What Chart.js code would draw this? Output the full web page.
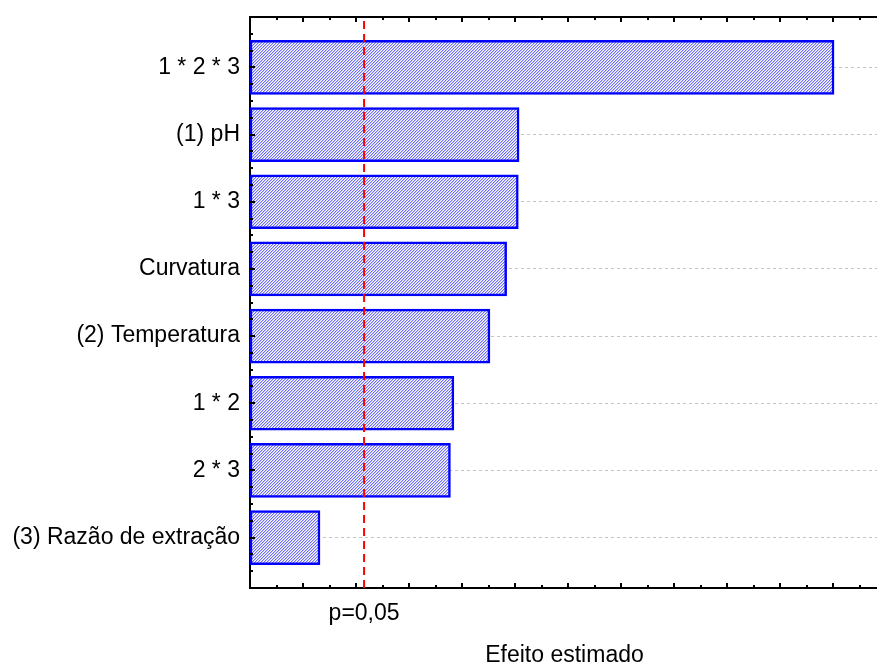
<!DOCTYPE html>
<html>
<head>
<meta charset="utf-8">
<title>Pareto - Efeito estimado</title>
<script src="https://cdn.jsdelivr.net/npm/chart.js@4.4.1/dist/chart.umd.min.js"></script>
<style>
  html, body { margin: 0; padding: 0; background: #fff; overflow: hidden; }
  #wrap { width: 877px; height: 664px; }
</style>
</head>
<body>
<div id="wrap"><canvas id="paretoChart" width="877" height="664"></canvas></div>
<script>
// valores (efeito padronizado)
const categories = [
  "1 * 2 * 3",
  "(1) pH",
  "1 * 3",
  "Curvatura",
  "(2) Temperatura",
  "1 * 2",
  "2 * 3",
  "(3) Razão de extração"
];
const effects = [22.03, 10.15, 10.12, 9.68, 9.05, 7.69, 7.56, 2.64];
const pLimit = 4.303;
const pLabel = "p=0,05";
const xTitle = "Efeito estimado";
const xMin = 0;
const xMax = 23.65;

const FONT = "'Liberation Sans', Arial, sans-serif";
const FONT_SIZE = 23;

// hachura fina em diagonal, como no original
function makeHatch(ctx) {
  const tile = document.createElement("canvas");
  tile.width = 3;
  tile.height = 3;
  const t = tile.getContext("2d");
  t.fillStyle = "#ffffff";
  t.fillRect(0, 0, 3, 3);
  for (let y = 0; y < 3; y++) {
    for (let x = 0; x < 3; x++) {
      const k = (x + y) % 3;
      if (k === 0) {
        t.fillStyle = "#6e6ef0";
        t.fillRect(x, y, 1, 1);
      } else if (k === 1) {
        t.fillStyle = "#c4c4f8";
        t.fillRect(x, y, 1, 1);
      }
    }
  }
  return ctx.createPattern(tile, "repeat");
}

// linha p=0,05, marcas internas dos eixos e textos de baixo
const paretoExtras = {
  id: "paretoExtras",
  afterDatasetsDraw(chart) {
    const { ctx, chartArea: a, scales } = chart;
    const px = scales.x.getPixelForValue(pLimit);
    ctx.save();
    ctx.strokeStyle = "#ff0000";
    ctx.lineWidth = 2;
    ctx.setLineDash([8, 5]);
    ctx.beginPath();
    ctx.moveTo(px, a.top + 4);
    ctx.lineTo(px, a.bottom);
    ctx.stroke();
    ctx.restore();
  },
  afterDraw(chart) {
    const { ctx, chartArea: a, scales } = chart;
    const x = scales.x;
    const y = scales.y;

    ctx.save();
    ctx.strokeStyle = "#000";
    ctx.lineWidth = 2;
    ctx.beginPath();
    for (let v = Math.ceil(xMin) + 1; v <= xMax; v++) {
      const p = Math.round(x.getPixelForValue(v));
      const len = v % 2 === 0 ? 5 : 3;
      ctx.moveTo(p, a.top);
      ctx.lineTo(p, a.top + len);
      ctx.moveTo(p, a.bottom);
      ctx.lineTo(p, a.bottom - len);
    }
    for (let v = -0.5; v <= categories.length - 0.5; v += 0.25) {
      const p = Math.round(y.getPixelForValue(v));
      const len = Number.isInteger(v) ? 5 : 3;
      ctx.moveTo(a.left, p);
      ctx.lineTo(a.left + len, p);
    }
    ctx.stroke();

    ctx.fillStyle = "#000";
    ctx.font = `${FONT_SIZE}px ${FONT}`;
    ctx.textAlign = "center";
    ctx.textBaseline = "alphabetic";
    ctx.fillText(pLabel, x.getPixelForValue(pLimit), 620);
    ctx.fillText(xTitle, (a.left + a.right) / 2 + 1, 662);
    ctx.restore();
  }
};

const canvas = document.getElementById("paretoChart");
const hatch = makeHatch(canvas.getContext("2d"));

new Chart(canvas, {
  type: "bar",
  data: {
    datasets: [
      {
        data: categories.map((name, i) => ({ x: effects[i], y: i })),
        backgroundColor: hatch,
        borderColor: "#0000ff",
        borderWidth: 2.5,
        borderSkipped: false,
        barThickness: 54,
        xAxisID: "x",
        yAxisID: "y"
      }
    ]
  },
  options: {
    indexAxis: "y",
    responsive: false,
    animation: false,
    layout: { padding: 0 },
    plugins: {
      legend: { display: false },
      tooltip: { enabled: false }
    },
    scales: {
      x: {
        type: "linear",
        position: "bottom",
        min: xMin,
        max: xMax,
        grid: { display: false },
        border: { display: true, color: "#000", width: 2 },
        ticks: { display: false },
        afterFit(scale) { scale.height = 76; }
      },
      xTop: {
        type: "linear",
        position: "top",
        min: xMin,
        max: xMax,
        grid: { display: false },
        border: { display: true, color: "#000", width: 2 },
        ticks: { display: false },
        afterFit(scale) { scale.height = 17; }
      },
      y: {
        type: "linear",
        position: "left",
        reverse: true,
        offset: false,
        min: -0.75,
        max: categories.length - 0.25,
        ticks: {
          stepSize: 0.25,
          autoSkip: false,
          padding: 10,
          color: "#000",
          font: { family: FONT, size: FONT_SIZE },
          callback: (v) => (Number.isInteger(v) ? categories[v] : "")
        },
        grid: {
          offset: false,
          drawTicks: false,
          lineWidth: 1,
          color: (ctx) => (ctx.tick && Number.isInteger(ctx.tick.value) ? "#c4c4c4" : "rgba(0,0,0,0)")
        },
        border: { display: true, color: "#000", width: 2, dash: [3, 3] },
        afterFit(scale) {
          scale.width = 250;
          scale.paddingTop = 0;
          scale.paddingBottom = 0;
        }
      }
    }
  },
  plugins: [paretoExtras]
});
</script>
</body>
</html>
